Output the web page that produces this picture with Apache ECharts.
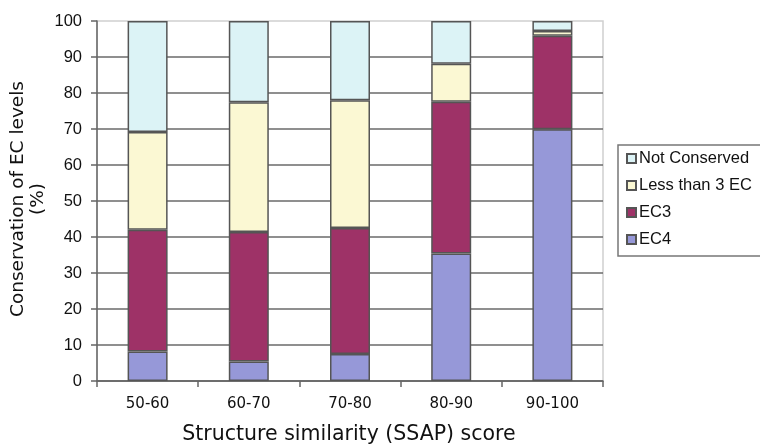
<!DOCTYPE html>
<html>
<head>
<meta charset="utf-8">
<script src="https://cdn.jsdelivr.net/npm/echarts@6/dist/echarts.min.js"></script>
<style>
  html, body { margin: 0; padding: 0; background: #fff; }
  #chart { width: 760px; height: 447px; }
</style>
</head>
<body>
<div id="chart"></div>
<script>
// SSAP score bins
const categories = ['50-60', '60-70', '70-80', '80-90', '90-100'];

// Share of pairs (%) at each level of EC conservation, stacked bottom to top
const ec4 = [8.2, 5.4, 7.5, 35.4, 69.9];
const ec3 = [33.8, 36.0, 35.0, 42.2, 26.0];
const lessThan3 = [27.2, 36.0, 35.5, 10.5, 1.3];
const notConserved = [30.8, 22.6, 22.0, 11.9, 2.8];

const seriesNames = ['EC4', 'EC3', 'Less than 3 EC', 'Not Conserved'];
const seriesColors = ['#9698d8', '#9e3267', '#fbf8d3', '#dcf3f6'];
const seriesValues = [ec4, ec3, lessThan3, notConserved];

const yTicks = [0, 100, 10];

const chart = echarts.init(document.getElementById('chart'), null, { renderer: 'canvas' });

const series = seriesNames.map((name, i) => ({
  name: name,
  type: 'bar',
  stack: 'ec',
  barWidth: 40,
  data: seriesValues[i],
  itemStyle: { color: seriesColors[i], borderColor: '#555', borderWidth: 1.5 },
  emphasis: { disabled: true }
}));

chart.setOption({
  animation: false,
  backgroundColor: '#fff',
  grid: {
    left: 97, right: 157, top: 21, bottom: 66,
    show: true, borderColor: '#d0d0d0', borderWidth: 1.5, backgroundColor: 'transparent'
  },
  legend: {
    orient: 'vertical',
    left: 621, top: 145,
    data: ['Not Conserved', 'Less than 3 EC', 'EC3', 'EC4'],
    icon: 'rect',
    itemWidth: 9, itemHeight: 9,
    itemGap: 10,
    textStyle: { fontFamily: 'Liberation Sans', fontSize: 16.5, color: '#111', padding: [0, 0, 0, -2] }
  },
  xAxis: {
    type: 'category',
    data: categories,
    axisLine: { lineStyle: { color: '#666', width: 1.5 } },
    axisTick: { show: true, length: 6, lineStyle: { color: '#666', width: 1.5 } },
    axisLabel: { fontFamily: 'DejaVu Sans', fontSize: 15, color: '#111', margin: 16 },
    splitLine: { show: false }
  },
  yAxis: {
    type: 'value',
    min: yTicks[0], max: yTicks[1], interval: yTicks[2],
    axisLine: { show: true, lineStyle: { color: '#666', width: 1.5 } },
    axisTick: { show: true, length: 6, lineStyle: { color: '#666', width: 1.5 } },
    axisLabel: { fontFamily: 'Liberation Sans', fontSize: 16.5, color: '#111', margin: 15 },
    splitLine: { show: true, showMaxLine: false, lineStyle: { color: '#6a6a6a', width: 1.6 } }
  },
  graphic: [
    {
      type: 'rect',
      shape: { x: 618, y: 145, width: 200, height: 111 },
      style: { fill: 'none', stroke: '#777', lineWidth: 1.5 },
      z: 1
    },
    {
      type: 'text',
      x: 28, y: 199,
      rotation: Math.PI / 2,
      style: {
        text: 'Conservation of EC levels\n(%)',
        fontFamily: 'DejaVu Sans', fontSize: 18.5, lineHeight: 20,
        fill: '#111', align: 'center', verticalAlign: 'middle'
      }
    },
    {
      type: 'text',
      x: 349, y: 435,
      style: {
        text: 'Structure similarity (SSAP) score',
        fontFamily: 'DejaVu Sans', fontSize: 20.5,
        fill: '#111', align: 'center', verticalAlign: 'middle'
      }
    }
  ],
  series: series
});
</script>
</body>
</html>
